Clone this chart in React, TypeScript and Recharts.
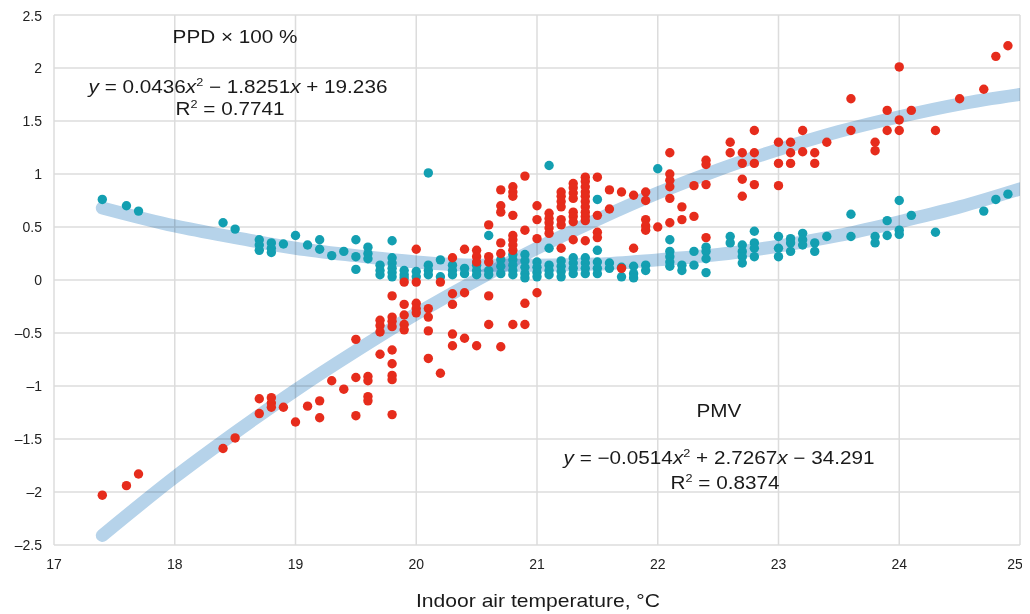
import React from 'react';
import { ComposedChart, Scatter, Line, XAxis, YAxis, CartesianGrid } from 'recharts';

const xTicks = [17, 18, 19, 20, 21, 22, 23, 24, 25];
const yTicks = [-2.5, -2, -1.5, -1, -0.5, 0, 0.5, 1, 1.5, 2, 2.5];

// PPD × 100 % observations (teal)
const ppdPoints: [number, number][] = [
  [17.4, 0.76], [17.6, 0.70], [17.7, 0.65], [18.4, 0.54], [18.5, 0.48],
  [18.7, 0.38], [18.7, 0.33], [18.7, 0.28], [18.8, 0.35], [18.8, 0.30], [18.8, 0.26],
  [18.9, 0.34], [19.0, 0.42], [19.1, 0.33], [19.2, 0.38], [19.2, 0.29], [19.3, 0.23], [19.4, 0.27],
  [19.5, 0.38], [19.5, 0.22], [19.5, 0.10], [19.6, 0.31], [19.6, 0.25], [19.6, 0.20],
  [19.7, 0.14], [19.7, 0.09], [19.7, 0.05],
  [19.8, 0.37], [19.8, 0.21], [19.8, 0.16], [19.8, 0.11], [19.8, 0.07], [19.8, 0.03],
  [19.9, 0.09], [19.9, 0.05], [19.9, 0.02], [20.0, 0.08], [20.0, 0.03],
  [20.1, 1.01], [20.1, 0.14], [20.1, 0.09], [20.1, 0.05], [20.2, 0.19], [20.2, 0.03],
  [20.3, 0.14], [20.3, 0.09], [20.3, 0.05], [20.4, 0.11], [20.4, 0.06],
  [20.5, 0.14], [20.5, 0.09], [20.5, 0.05], [20.6, 0.42], [20.6, 0.09], [20.6, 0.05],
  [20.7, 0.19], [20.7, 0.13], [20.7, 0.06],
  [20.8, 0.24], [20.8, 0.19], [20.8, 0.14], [20.8, 0.09], [20.8, 0.05],
  [20.9, 0.24], [20.9, 0.18], [20.9, 0.12], [20.9, 0.06], [20.9, 0.02],
  [21.0, 0.17], [21.0, 0.12], [21.0, 0.07], [21.0, 0.03],
  [21.1, 1.08], [21.1, 0.30], [21.1, 0.14], [21.1, 0.09], [21.1, 0.05],
  [21.2, 0.18], [21.2, 0.13], [21.2, 0.08], [21.2, 0.03],
  [21.3, 0.21], [21.3, 0.16], [21.3, 0.11], [21.3, 0.06],
  [21.4, 0.21], [21.4, 0.16], [21.4, 0.11], [21.4, 0.06],
  [21.5, 0.76], [21.5, 0.28], [21.5, 0.17], [21.5, 0.11], [21.5, 0.06],
  [21.6, 0.16], [21.6, 0.11], [21.7, 0.12], [21.7, 0.03], [21.8, 0.13], [21.8, 0.06], [21.8, 0.02],
  [21.9, 0.14], [21.9, 0.09], [22.0, 1.05],
  [22.1, 0.38], [22.1, 0.27], [22.1, 0.22], [22.1, 0.17], [22.1, 0.13],
  [22.2, 0.14], [22.2, 0.09], [22.3, 0.27], [22.3, 0.14],
  [22.4, 0.31], [22.4, 0.27], [22.4, 0.20], [22.4, 0.07], [22.6, 0.41], [22.6, 0.35],
  [22.7, 0.33], [22.7, 0.27], [22.7, 0.22], [22.7, 0.16],
  [22.8, 0.46], [22.8, 0.35], [22.8, 0.30], [22.8, 0.22],
  [23.0, 0.41], [23.0, 0.30], [23.0, 0.22], [23.1, 0.39], [23.1, 0.35], [23.1, 0.27],
  [23.2, 0.44], [23.2, 0.38], [23.2, 0.33], [23.3, 0.35], [23.3, 0.27], [23.4, 0.41],
  [23.6, 0.62], [23.6, 0.41], [23.8, 0.41], [23.8, 0.35], [23.9, 0.56], [23.9, 0.42],
  [24.0, 0.75], [24.0, 0.47], [24.0, 0.43], [24.1, 0.61], [24.3, 0.45],
  [24.7, 0.65], [24.8, 0.76], [24.9, 0.81],
];

// PMV observations (red)
const pmvPoints: [number, number][] = [
  [17.4, -2.03], [17.6, -1.94], [17.7, -1.83], [18.4, -1.59], [18.5, -1.49],
  [18.7, -1.12], [18.7, -1.26], [18.8, -1.11], [18.8, -1.16], [18.8, -1.20], [18.9, -1.20],
  [19.0, -1.34], [19.1, -1.19], [19.2, -1.14], [19.2, -1.30], [19.3, -0.95], [19.4, -1.03],
  [19.5, -0.56], [19.5, -0.92], [19.5, -1.28],
  [19.6, -0.91], [19.6, -0.95], [19.6, -1.10], [19.6, -1.14],
  [19.7, -0.38], [19.7, -0.43], [19.7, -0.49], [19.7, -0.70],
  [19.8, -0.15], [19.8, -0.35], [19.8, -0.39], [19.8, -0.44], [19.8, -0.66], [19.8, -0.79],
  [19.8, -0.90], [19.8, -0.94], [19.8, -1.27],
  [19.9, -0.02], [19.9, -0.23], [19.9, -0.33], [19.9, -0.42], [19.9, -0.47],
  [20.0, 0.29], [20.0, -0.02], [20.0, -0.22], [20.0, -0.27], [20.0, -0.31],
  [20.1, -0.27], [20.1, -0.35], [20.1, -0.48], [20.1, -0.74], [20.2, -0.02], [20.2, -0.88],
  [20.3, 0.21], [20.3, -0.13], [20.3, -0.23], [20.3, -0.51], [20.3, -0.62],
  [20.4, 0.29], [20.4, -0.12], [20.4, -0.55],
  [20.5, 0.28], [20.5, 0.22], [20.5, 0.17], [20.5, -0.62],
  [20.6, 0.52], [20.6, 0.22], [20.6, 0.17], [20.6, -0.15], [20.6, -0.42],
  [20.7, 0.85], [20.7, 0.70], [20.7, 0.64], [20.7, 0.35], [20.7, 0.25], [20.7, -0.63],
  [20.8, 0.88], [20.8, 0.83], [20.8, 0.79], [20.8, 0.61], [20.8, 0.42], [20.8, 0.38],
  [20.8, 0.33], [20.8, 0.28], [20.8, -0.42],
  [20.9, 0.98], [20.9, 0.47], [20.9, -0.22], [20.9, -0.42],
  [21.0, 0.70], [21.0, 0.57], [21.0, 0.39], [21.0, -0.12],
  [21.1, 0.63], [21.1, 0.58], [21.1, 0.54], [21.1, 0.49], [21.1, 0.44],
  [21.2, 0.83], [21.2, 0.79], [21.2, 0.74], [21.2, 0.69], [21.2, 0.57], [21.2, 0.52], [21.2, 0.30],
  [21.3, 0.91], [21.3, 0.87], [21.3, 0.82], [21.3, 0.77], [21.3, 0.64], [21.3, 0.60], [21.3, 0.55], [21.3, 0.38],
  [21.4, 0.97], [21.4, 0.93], [21.4, 0.88], [21.4, 0.83], [21.4, 0.79], [21.4, 0.74],
  [21.4, 0.69], [21.4, 0.64], [21.4, 0.60], [21.4, 0.56], [21.4, 0.37],
  [21.5, 0.97], [21.5, 0.61], [21.5, 0.45], [21.5, 0.40],
  [21.6, 0.85], [21.6, 0.67], [21.7, 0.83], [21.7, 0.11], [21.8, 0.80], [21.8, 0.30],
  [21.9, 0.83], [21.9, 0.75], [21.9, 0.57], [21.9, 0.51], [21.9, 0.47], [22.0, 0.50],
  [22.1, 1.20], [22.1, 1.00], [22.1, 0.94], [22.1, 0.88], [22.1, 0.77], [22.1, 0.54],
  [22.2, 0.69], [22.2, 0.57], [22.3, 0.89], [22.3, 0.60],
  [22.4, 1.13], [22.4, 1.09], [22.4, 0.90], [22.4, 0.40], [22.6, 1.30], [22.6, 1.20],
  [22.7, 1.20], [22.7, 1.10], [22.7, 0.95], [22.7, 0.79],
  [22.8, 1.41], [22.8, 1.20], [22.8, 1.10], [22.8, 0.90],
  [23.0, 1.30], [23.0, 1.10], [23.0, 0.89], [23.1, 1.30], [23.1, 1.20], [23.1, 1.10],
  [23.2, 1.41], [23.2, 1.21], [23.3, 1.20], [23.3, 1.10], [23.4, 1.30],
  [23.6, 1.71], [23.6, 1.41], [23.8, 1.30], [23.8, 1.22], [23.9, 1.60], [23.9, 1.41],
  [24.0, 2.01], [24.0, 1.51], [24.0, 1.41], [24.1, 1.60], [24.3, 1.41],
  [24.5, 1.71], [24.7, 1.80], [24.8, 2.11], [24.9, 2.21],
];

// Trend curves
const ppdTrend: [number, number][] = [
  [17.4, 0.68], [18, 0.51], [18.5, 0.40], [19, 0.30], [19.5, 0.23], [20, 0.17], [20.5, 0.14],
  [21, 0.14], [21.5, 0.15], [22, 0.19], [22.5, 0.24], [23, 0.32], [23.5, 0.42], [24, 0.55],
  [24.5, 0.69], [25, 0.86],
];
const pmvTrend: [number, number][] = [
  [17.4, -2.41], [18, -1.86], [18.5, -1.44], [19, -1.04], [19.5, -0.67], [20, -0.32], [20.5, 0.0],
  [21, 0.30], [21.5, 0.57], [22, 0.82], [22.5, 1.04], [23, 1.23], [23.5, 1.40], [24, 1.54],
  [24.5, 1.66], [25, 1.75],
];

const toXY = (a: [number, number][]) => a.map(([x, y]) => ({ x, y }));

const TEAL = '#139fb1';
const RED = '#e62c1c';
const TREND = '#b6d3ea';

const dot = (color: string) => (p: any) =>
  p.cx == null ? <g /> : <circle cx={p.cx} cy={p.cy} r={4.7} fill={color} />;

const fmt = (v: number) => (v < 0 ? '\u2013' + String(Math.abs(v)) : String(v));

const tickFont = { fontFamily: "'Liberation Sans', Arial, sans-serif", fontSize: 14, fill: '#222' };
const annFont: React.CSSProperties = {
  position: 'absolute',
  transform: 'translate(-50%, -50%) scaleX(1.15)',
  fontFamily: "'Liberation Sans', Arial, sans-serif",
  fontSize: 18,
  color: '#1a1a1a',
  whiteSpace: 'nowrap',
  lineHeight: 1,
};

const Ann = ({ x, y, children, style }: any) => (
  <div style={{ ...annFont, left: x, top: y, ...style }}>{children}</div>
);

const Sup = ({ children }: any) => (
  <span style={{ fontSize: 11, position: 'relative', top: -7 }}>{children}</span>
);

export default function App() {
  return (
    <div style={{ position: 'relative', width: 1014, height: 606 }}>
      <style>{`html, body { overflow: hidden; } .trend-line path { mix-blend-mode: multiply; }`}</style>
      <ComposedChart width={1014} height={598} margin={{ top: 7, right: 2, bottom: 0, left: 0 }}>
        <CartesianGrid stroke="#dcdcdc" strokeWidth={1.5} />
        <XAxis
          dataKey="x"
          type="number"
          domain={[17, 25]}
          ticks={xTicks}
          axisLine={false}
          tickLine={false}
          tickSize={0}
          tickMargin={14}
          height={61}
          tick={tickFont}
          allowDataOverflow
        />
        <YAxis
          dataKey="y"
          type="number"
          domain={[-2.5, 2.5]}
          ticks={yTicks}
          axisLine={false}
          tickLine={false}
          tickSize={0}
          tickMargin={12}
          width={46}
          tick={tickFont}
          tickFormatter={fmt}
          allowDataOverflow
        />
        <Scatter data={toXY(ppdPoints)} dataKey="y" fill={TEAL} shape={dot(TEAL)} isAnimationActive={false} />
        <Scatter data={toXY(pmvPoints)} dataKey="y" fill={RED} shape={dot(RED)} isAnimationActive={false} />
        <Line
          className="trend-line"
          data={toXY(ppdTrend)}
          dataKey="y"
          type="monotone"
          stroke={TREND}
          strokeWidth={13}
          strokeLinecap="round"
          dot={false}
          activeDot={false}
          isAnimationActive={false}
        />
        <Line
          className="trend-line"
          data={toXY(pmvTrend)}
          dataKey="y"
          type="monotone"
          stroke={TREND}
          strokeWidth={13}
          strokeLinecap="round"
          dot={false}
          activeDot={false}
          isAnimationActive={false}
        />
      </ComposedChart>
      <Ann x={227} y={29}>PPD × 100 %</Ann>
      <Ann x={230} y={79}>
        <i>y</i> = 0.0436<i>x</i><Sup>2</Sup> − 1.8251<i>x</i> + 19.236
      </Ann>
      <Ann x={222} y={101}>
        R<Sup>2</Sup> = 0.7741
      </Ann>
      <Ann x={711} y={403}>PMV</Ann>
      <Ann x={711} y={450}>
        <i>y</i> = −0.0514<i>x</i><Sup>2</Sup> + 2.7267<i>x</i> − 34.291
      </Ann>
      <Ann x={717} y={475}>
        R<Sup>2</Sup> = 0.8374
      </Ann>
      <Ann x={530} y={592} style={{ fontSize: 19, transform: 'translate(-50%, -50%) scaleX(1.11)' }}>
        Indoor air temperature, °C
      </Ann>
    </div>
  );
}
